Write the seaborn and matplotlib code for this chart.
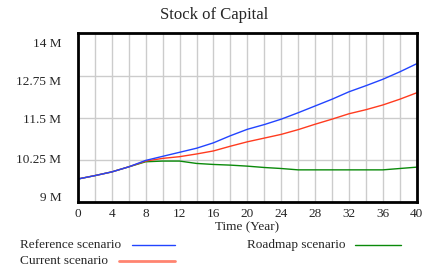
import numpy as np
import pandas as pd
import seaborn as sns
import matplotlib.pyplot as plt
import matplotlib.transforms as mtransforms
from matplotlib.lines import Line2D

sns.set_style("white")
plt.rcParams['font.family'] = ['Liberation Serif', 'DejaVu Serif']

years = list(range(0, 41, 2))
reference = [9.69, 9.79, 9.90, 10.05, 10.24, 10.36, 10.48, 10.60, 10.76, 10.97, 11.16,
             11.30, 11.46, 11.65, 11.85, 12.05, 12.27, 12.45, 12.64, 12.86, 13.10]
current = [9.69, 9.79, 9.90, 10.05, 10.22, 10.30, 10.35, 10.43, 10.52, 10.66, 10.79,
           10.90, 11.01, 11.15, 11.31, 11.46, 11.62, 11.74, 11.88, 12.05, 12.24]
roadmap = [9.69, 9.79, 9.90, 10.05, 10.20, 10.22, 10.22, 10.15, 10.12, 10.10, 10.07,
           10.03, 10.00, 9.96, 9.96, 9.96, 9.96, 9.96, 9.96, 10.00, 10.04]
y_ticks = [9, 10.25, 11.5, 12.75, 14]
y_labels = ["9 M", "10.25 M", "11.5 M", "12.75 M", "14 M"]

colors = {"Reference scenario": "#2244ff", "Current scenario": "#ff3b1f",
          "Roadmap scenario": "#0a8a0a"}

df = pd.DataFrame({
    "year": years * 3,
    "value": roadmap + current + reference,
    "scenario": ["Roadmap scenario"] * len(years) + ["Current scenario"] * len(years)
                + ["Reference scenario"] * len(years),
})

fig = plt.figure(figsize=(4.29, 2.71), dpi=100)
ax = fig.add_axes([0.1818, 0.2535, 0.7895, 0.6235])
sns.lineplot(data=df, x="year", y="value", hue="scenario", palette=colors,
             linewidth=1.0, legend=False, ax=ax)

ax.set_xlim(0, 40)
ax.set_ylim(9, 14)
ax.set_xticks(range(0, 41, 4))
ax.set_xticks(range(0, 41, 2), minor=True)
ax.set_yticks(y_ticks)
ax.set_yticklabels(y_labels)
ax.grid(True, which="both", axis="x", color="#cccccc", linewidth=1.0)
ax.grid(True, which="major", axis="y", color="#cccccc", linewidth=1.0)
ax.tick_params(axis="both", which="both", length=0, labelsize=9.5)
ax.tick_params(axis="y", pad=12)
ax.tick_params(axis="x", pad=4)
for s in ax.spines.values():
    s.set_color("black")
    s.set_linewidth(2.0)

# the y labels sit a little closer to the middle than their gridlines
shifts = [6, 2, -1, -5, -9]
for lab, dy in zip(ax.get_yticklabels(), shifts):
    lab.set_transform(lab.get_transform() +
                      mtransforms.ScaledTranslation(0, dy / 100, fig.dpi_scale_trans))

ax.set_xlabel("Time (Year)", fontsize=9.5, labelpad=1)
ax.set_ylabel("")
fig.text(0.5, 0.945, "Stock of Capital", ha="center", va="center", fontsize=12)

# legend drawn below the plot
fig.text(20 / 429, 1 - 245 / 271, "Reference scenario", ha="left", va="center", fontsize=9.5)
fig.add_artist(Line2D([132 / 429, 175 / 429], [1 - 245 / 271] * 2,
                      color=colors["Reference scenario"], linewidth=1.0))
fig.text(20 / 429, 1 - 261 / 271, "Current scenario", ha="left", va="center", fontsize=9.5)
fig.add_artist(Line2D([119 / 429, 175 / 429], [1 - 261 / 271] * 2,
                      color="#ff8470", linewidth=2.0))
fig.text(247 / 429, 1 - 245 / 271, "Roadmap scenario", ha="left", va="center", fontsize=9.5)
fig.add_artist(Line2D([355 / 429, 401 / 429], [1 - 245 / 271] * 2,
                      color=colors["Roadmap scenario"], linewidth=1.0))

fig.savefig("out.png", dpi=100)
